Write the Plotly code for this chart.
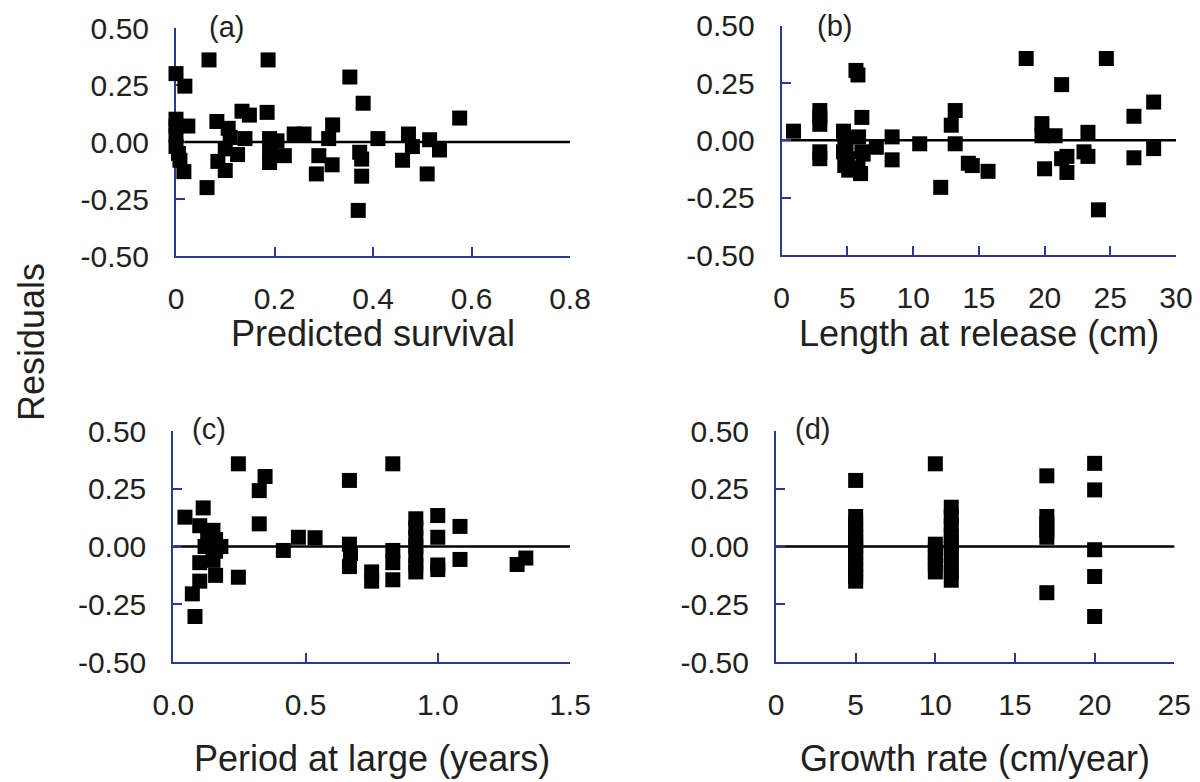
import plotly.graph_objects as go

# ---------------- data ----------------
# (a) Predicted survival vs residuals
a_x = [0.0, 0.018, 0.067, 0.187, 0.353, 0.38, 0.576, 0.134, 0.149, 0.185,
       0.083, 0.024, 0.0, 0.0, 0.0, 0.0, 0.005, 0.008, 0.016, 0.106,
       0.11, 0.1, 0.125, 0.085, 0.1, 0.14, 0.063, 0.19, 0.205, 0.19,
       0.19, 0.22, 0.24, 0.26, 0.318, 0.31, 0.29, 0.317, 0.285, 0.373,
       0.377, 0.377, 0.37, 0.41, 0.472, 0.48, 0.46, 0.515, 0.535, 0.51]
a_y = [0.30, 0.245, 0.36, 0.36, 0.285, 0.17, 0.105, 0.135, 0.118, 0.13,
       0.09, 0.07, 0.10, 0.07, 0.03, -0.02, -0.05, -0.08, -0.13, 0.06,
       0.02, -0.03, -0.055, -0.085, -0.125, 0.015, -0.20, 0.015, 0.005, -0.05,
       -0.09, -0.06, 0.035, 0.035, 0.075, 0.015, -0.06, -0.10, -0.14, -0.045,
       -0.075, -0.15, -0.30, 0.015, 0.035, -0.02, -0.08, 0.01, -0.035, -0.14]

# (b) Length at release (cm)
b_x = [0.9, 2.9, 2.9, 2.9, 2.9, 2.9,
       4.7, 4.8, 4.9, 4.7, 5.0, 4.8, 5.1,
       5.65, 5.8, 6.1, 5.85, 6.1, 6.0, 5.8, 6.2,
       7.2, 8.4, 8.4, 10.5, 12.1, 13.2, 12.9, 13.2, 14.2, 14.5, 15.7,
       18.6, 19.8, 19.8, 20.0, 20.8, 21.3, 21.7, 21.7, 21.3,
       23.3, 23.3, 23.0, 24.1, 24.7, 26.8, 26.8, 28.3, 28.3]
b_y = [0.04, 0.13, 0.10, 0.07, -0.05, -0.08,
       0.04, 0.01, -0.02, -0.05, -0.08, -0.11, -0.13,
       0.305, 0.285, 0.10, 0.015, -0.05, -0.145, -0.12, -0.06,
       -0.03, 0.015, -0.085, -0.015, -0.205, 0.13, 0.066, -0.015, -0.10, -0.11, -0.135,
       0.357, 0.073, 0.02, -0.124, 0.02, 0.243, -0.07, -0.14, -0.08,
       0.035, -0.07, -0.05, -0.303, 0.357, 0.105, -0.076, 0.167, -0.036]

# (c) Period at large (years)
c_x = [0.044, 0.113, 0.10, 0.15, 0.16, 0.12, 0.16, 0.10, 0.15, 0.16,
       0.10, 0.13, 0.18, 0.072, 0.082, 0.246, 0.246, 0.347, 0.325, 0.325,
       0.416, 0.473, 0.536, 0.666, 0.666, 0.67, 0.666, 0.75, 0.75, 0.83,
       0.83, 0.83, 0.83, 0.917, 0.917, 0.917, 0.917, 0.917, 0.917, 0.917,
       1.0, 1.0, 1.0, 1.0, 1.084, 1.084, 1.30, 1.333]
c_y = [0.127, 0.167, 0.09, 0.07, 0.03, 0.0, -0.02, -0.07, -0.06, -0.125,
       -0.15, 0.05, 0.0, -0.205, -0.303, 0.358, -0.133, 0.303, 0.242, 0.098,
       -0.017, 0.04, 0.038, 0.286, 0.01, -0.03, -0.087, -0.11, -0.15, 0.358,
       -0.017, -0.07, -0.144, 0.12, 0.08, 0.04, 0.0, -0.04, -0.08, -0.11,
       0.134, 0.04, -0.08, -0.10, 0.087, -0.056, -0.078, -0.05]

# (d) Growth rate (cm/year)
d_x = [5] * 13 + [10] * 6 + [11] * 10 + [17] * 6 + [20] * 5
d_y = [0.286, 0.13, 0.10, 0.07, 0.04, 0.02, 0.0, -0.02, -0.05, -0.08, -0.10, -0.13, -0.15,
       0.358, 0.01, -0.02, -0.05, -0.08, -0.11,
       0.17, 0.13, 0.09, 0.05, 0.02, -0.01, -0.04, -0.08, -0.11, -0.146,
       0.306, 0.13, 0.10, 0.07, 0.04, -0.20,
       0.36, 0.245, -0.014, -0.13, -0.303]

y_tickvals = [-0.5, -0.25, 0.0, 0.25, 0.5]
y_ticktext = ["-0.50", "-0.25", "0.00", "0.25", "0.50"]
a_ticks = [0, 0.2, 0.4, 0.6, 0.8]
a_ticktext = ["0", "0.2", "0.4", "0.6", "0.8"]
b_ticks = [0, 5, 10, 15, 20, 25, 30]
c_ticks = [0, 0.5, 1.0, 1.5]
c_ticktext = ["0.0", "0.5", "1.0", "1.5"]
d_ticks = [0, 5, 10, 15, 20, 25]

panel_labels = ["(a)", "(b)", "(c)", "(d)"]
x_titles = ["Predicted survival", "Length at release (cm)",
            "Period at large (years)", "Growth rate (cm/year)"]
y_title = "Residuals"

# ---------------- styling ----------------
AXC = "#2B3990"
TXT = "#231F20"
FONT = "Liberation Sans, Arial, Helvetica, sans-serif"
TICKF = dict(family=FONT, size=30, color=TXT)

# The page body has an 8px margin; the figure is sized to fit the window.
OFF = 8
W, H = 1200 - OFF, 782 - OFF


def px_x(p):
    return (p - OFF) / W


def px_y(p):
    return 1 - (p - OFF) / H


fig = go.Figure()
series = [(a_x, a_y), (b_x, b_y), (c_x, c_y), (d_x, d_y)]
for i, (xs, ys) in enumerate(series):
    sfx = "" if i == 0 else str(i + 1)
    fig.add_trace(go.Scatter(
        x=xs, y=ys, mode="markers",
        marker=dict(symbol="square", size=15, color="black", line=dict(width=0)),
        xaxis="x" + sfx, yaxis="y" + sfx, cliponaxis=False, showlegend=False,
        hoverinfo="x+y"))

x_px = [(176, 570), (781.7, 1176), (173.3, 570), (776, 1174.3)]
y_px = [(256, 28), (255, 25.7), (662, 431), (662, 431)]
x_ranges = [[0, 0.8], [0, 30], [0, 1.5], [0, 25]]
x_tv = [a_ticks, b_ticks, c_ticks, d_ticks]
x_tt = [a_ticktext, [str(v) for v in b_ticks], c_ticktext, [str(v) for v in d_ticks]]

common = dict(showline=True, linecolor=AXC, linewidth=2, ticks="inside",
              ticklen=9, tickwidth=2, tickcolor=AXC, showgrid=False,
              zeroline=False, tickfont=TICKF, layer="below traces",
              fixedrange=True, automargin=False)

layout = dict(width=W, height=H, paper_bgcolor="white", plot_bgcolor="white",
              margin=dict(l=0, r=0, t=0, b=0, pad=0), showlegend=False, autosize=False)
for i in range(4):
    sfx = "" if i == 0 else str(i + 1)
    layout["xaxis" + sfx] = dict(common, domain=[px_x(x_px[i][0]), px_x(x_px[i][1])],
                                 range=x_ranges[i],
                                 tickmode="array", tickvals=x_tv[i], ticktext=x_tt[i],
                                 anchor="y" + sfx, ticklabelstandoff=15)
    layout["yaxis" + sfx] = dict(common, domain=[px_y(y_px[i][0]), px_y(y_px[i][1])],
                                 range=[-0.5, 0.5],
                                 tickmode="array", tickvals=y_tickvals,
                                 ticktext=y_ticktext, anchor="x" + sfx,
                                 ticklabelstandoff=19)
fig.update_layout(**layout)

# zero reference lines
for i in range(4):
    sfx = "" if i == 0 else str(i + 1)
    fig.add_shape(type="line", xref="x" + sfx + " domain", yref="y" + sfx,
                  x0=0, x1=1, y0=0, y1=0, line=dict(color="black", width=2.5),
                  layer="below")

# panel labels
lab_pos = [(207, 27), (815, 26), (190, 429), (793, 429)]
for lab, (px, py) in zip(panel_labels, lab_pos):
    fig.add_annotation(text=lab, xref="paper", yref="paper", x=px_x(px), y=px_y(py),
                       xanchor="left", yanchor="middle", showarrow=False,
                       font=dict(family=FONT, size=29, color=TXT))

# x axis titles
tpos = [(373, 334), (979, 334), (372, 758), (975, 758)]
for t, (px, py) in zip(x_titles, tpos):
    fig.add_annotation(text=t, xref="paper", yref="paper", x=px_x(px), y=px_y(py),
                       xanchor="center", yanchor="middle", showarrow=False,
                       font=dict(family=FONT, size=36, color=TXT))

fig.add_annotation(text=y_title, xref="paper", yref="paper", x=px_x(31), y=px_y(342),
                   xanchor="center", yanchor="middle", showarrow=False, textangle=-90,
                   font=dict(family=FONT, size=36, color=TXT))

fig.write_html("out.html")
